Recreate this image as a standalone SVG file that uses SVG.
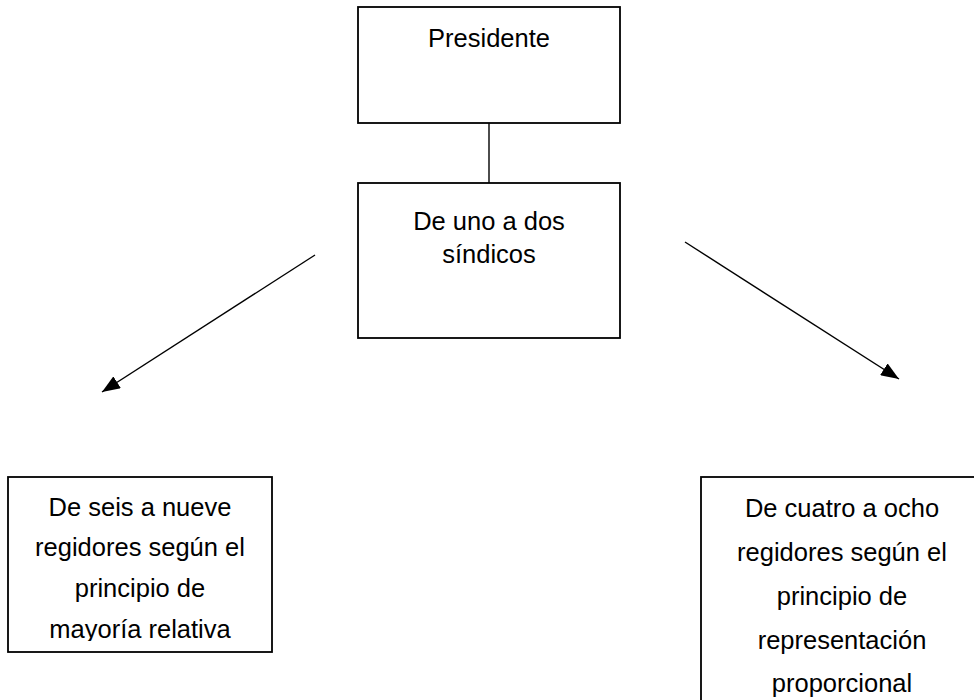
<svg xmlns="http://www.w3.org/2000/svg" width="974" height="700" viewBox="0 0 974 700">
<style>
.box{fill:#fff;stroke:#000;stroke-width:1.8}
.t{font-family:"Liberation Sans",Arial,sans-serif;font-size:25.5px;fill:#000;text-anchor:middle}
.c{stroke:#000;stroke-width:1.4;fill:none}
</style>
<defs>
<marker id="ah2" viewBox="0 0 18 14" refX="18" refY="7" markerWidth="18" markerHeight="14" orient="auto" markerUnits="userSpaceOnUse">
<path d="M0,0 L18,7 L0,14 Z" fill="#000"/>
</marker>
<clipPath id="clipL"><rect x="0" y="477" width="300" height="164"/></clipPath>
</defs>
<rect width="974" height="700" fill="#fff"/>
<g id="connectors">
<line class="c" x1="489" y1="123" x2="489" y2="183"/>
<line class="c" x1="315" y1="255" x2="102" y2="392" marker-end="url(#ah2)"/>
<line class="c" x1="685" y1="242" x2="899" y2="379" marker-end="url(#ah2)"/>
</g>
<g id="presidente">
<rect class="box" x="358" y="7" width="262" height="116"/>
<text class="t" x="489" y="47">Presidente</text>
</g>
<g id="sindicos">
<rect class="box" x="358" y="183" width="262" height="155"/>
<text class="t" x="489" y="230">De uno a dos</text>
<text class="t" x="489" y="263">síndicos</text>
</g>
<g id="mayoria">
<rect class="box" x="8" y="477" width="264" height="175"/>
<g clip-path="url(#clipL)">
<text class="t" x="140" y="516">De seis a nueve</text>
<text class="t" x="140" y="556">regidores según el</text>
<text class="t" x="140" y="597">principio de</text>
<text class="t" x="140" y="638">mayoría relativa</text>
</g>
</g>
<g id="proporcional">
<rect class="box" x="701" y="477" width="282" height="240"/>
<text class="t" x="842" y="517">De cuatro a ocho</text>
<text class="t" x="842" y="561">regidores según el</text>
<text class="t" x="842" y="605">principio de</text>
<text class="t" x="842" y="649">representación</text>
<text class="t" x="842" y="692">proporcional</text>
</g>
</svg>
